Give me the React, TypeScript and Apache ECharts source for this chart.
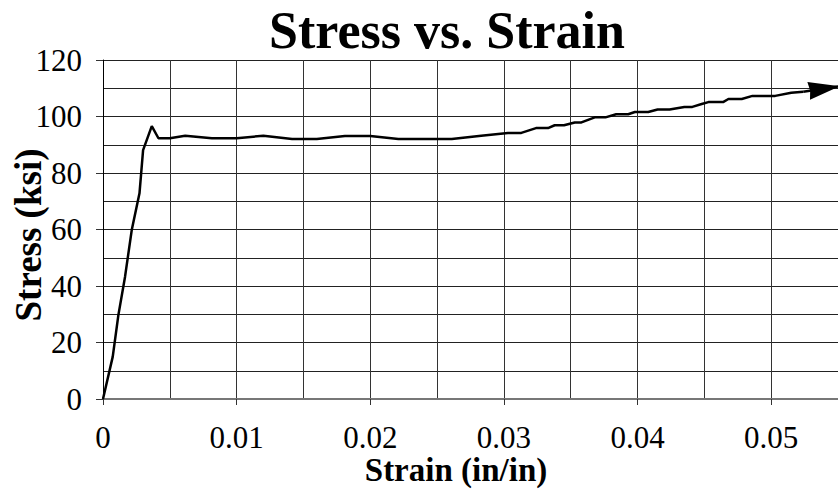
import React, { useEffect, useRef } from "react";
import * as echarts from "echarts";

const strain = [
  0, 0.00073, 0.00115, 0.00165, 0.00215, 0.00273, 0.003, 0.00365, 0.00415, 0.005,
  0.00615, 0.00815, 0.01, 0.012, 0.01415, 0.016, 0.0181, 0.02, 0.0221, 0.0261,
  0.0283, 0.0303, 0.0313, 0.0324, 0.0333, 0.0338, 0.0345, 0.0353, 0.0358, 0.0364,
  0.0368, 0.0376, 0.0384, 0.0393, 0.0398, 0.0408, 0.0415, 0.0424, 0.0435, 0.0441,
  0.0448, 0.0453, 0.0464, 0.0468, 0.0478, 0.0486, 0.0503, 0.0515, 0.0524, 0.0551,
];
const stress = [
  0, 15, 29.7, 43.3, 59.8, 72.8, 88.1, 96.6, 92.3, 92.3,
  93.2, 92.3, 92.3, 93.2, 92, 92, 93.1, 93.1, 92, 92,
  93.2, 94.2, 94.2, 95.9, 95.9, 96.9, 96.9, 97.9, 97.9, 99.0,
  99.7, 99.7, 100.8, 100.8, 101.6, 101.6, 102.5, 102.5, 103.4, 103.4,
  104.4, 105.1, 105.1, 106.2, 106.2, 107.3, 107.3, 108.4, 108.8, 110.7,
];

const titleText = "Stress vs. Strain";
const xName = "Strain (in/in)";
const yName = "Stress (ksi)";

const FONT = "'Liberation Serif', 'Times New Roman', serif";
// arrowhead whose tip sits at the symbol's centre (dummy point extends the box forward)
const ARROW = "path://M0,31L9,62L0,60.5L-9,62Z M0,0L0,0";

export default function App() {
  const ref = useRef<HTMLDivElement>(null);
  useEffect(() => {
    if (!ref.current) return;
    const chart = echarts.init(ref.current, null, { renderer: "svg" });
    const coords = strain.map((s, i) => [s, stress[i]]);
    const n = strain.length;
    const arrowSeg = [
      [strain[n - 2], stress[n - 2]],
      [strain[n - 1], stress[n - 1]],
    ];
    chart.setOption({
      animation: false,
      backgroundColor: "#fff",
      graphic: [
        {
          type: "text",
          x: 447,
          y: 30,
          style: {
            text: titleText,
            font: `bold 52px ${FONT}`,
            fill: "#000",
            textAlign: "center",
            textVerticalAlign: "middle",
          },
        },
        {
          type: "text",
          x: 456,
          y: 470,
          style: {
            text: xName,
            font: `bold 33px ${FONT}`,
            fill: "#000",
            textAlign: "center",
            textVerticalAlign: "middle",
          },
        },
        {
          type: "text",
          x: 28,
          y: 235,
          rotation: Math.PI / 2,
          style: {
            text: yName,
            font: `bold 37px ${FONT}`,
            fill: "#000",
            textAlign: "center",
            textVerticalAlign: "middle",
          },
        },
      ],
      grid: {
        left: 103,
        right: 0,
        top: 60,
        bottom: 94,
        containLabel: false,
        outerBoundsMode: "none",
      },
      xAxis: [
        {
          type: "value",
          min: 0,
          max: 0.055,
          interval: 0.005,
          axisLine: { show: true, lineStyle: { color: "#777", width: 2 } },
          axisTick: { show: false },
          axisLabel: {
            margin: 23,
            fontFamily: FONT,
            fontSize: 31,
            color: "#000",
            formatter: (v: number) => {
              const k = v / 0.01;
              if (Math.abs(k - Math.round(k)) < 1e-6 && v < 0.0545) {
                return String(Number(v.toFixed(2)));
              }
              return "";
            },
          },
          splitLine: { show: true, lineStyle: { color: "#333", width: 1 } },
        },
        {
          type: "value",
          min: 0,
          max: 0.055,
          interval: 0.01,
          position: "bottom",
          axisLine: { show: false },
          axisTick: { show: true, length: 6, lineStyle: { color: "#333", width: 1 } },
          axisLabel: { show: false },
          splitLine: { show: false },
        },
      ],
      yAxis: {
        type: "value",
        min: 0,
        max: 120,
        interval: 20,
        axisLine: { show: true, lineStyle: { color: "#000", width: 1 } },
        axisTick: { show: true, length: 7, lineStyle: { color: "#333", width: 1 } },
        axisLabel: {
          margin: 21,
          fontFamily: FONT,
          fontSize: 31,
          color: "#000",
        },
        splitLine: { show: true, lineStyle: { color: "#222", width: 1 } },
        minorTick: { show: false, splitNumber: 2 },
        minorSplitLine: { show: true, lineStyle: { color: "#222", width: 1 } },
      },
      series: [
        {
          type: "line",
          xAxisIndex: 0,
          yAxisIndex: 0,
          showSymbol: false,
          symbol: "none",
          clip: false,
          lineStyle: { color: "#000", width: 2.5 },
          data: coords.slice(0, n - 1),
        },
        {
          type: "lines",
          coordinateSystem: "cartesian2d",
          xAxisIndex: 0,
          yAxisIndex: 0,
          clip: false,
          symbol: ["none", ARROW],
          symbolSize: [1, [18, 62]],
          lineStyle: { color: "#000", width: 2.5, opacity: 1, curveness: 0 },
          data: [{ coords: arrowSeg }],
        },
      ],
    });
    return () => chart.dispose();
  }, []);
  return (
    <div
      ref={ref}
      style={{ position: "fixed", left: 0, top: 0, width: 838, height: 493 }}
    />
  );
}
